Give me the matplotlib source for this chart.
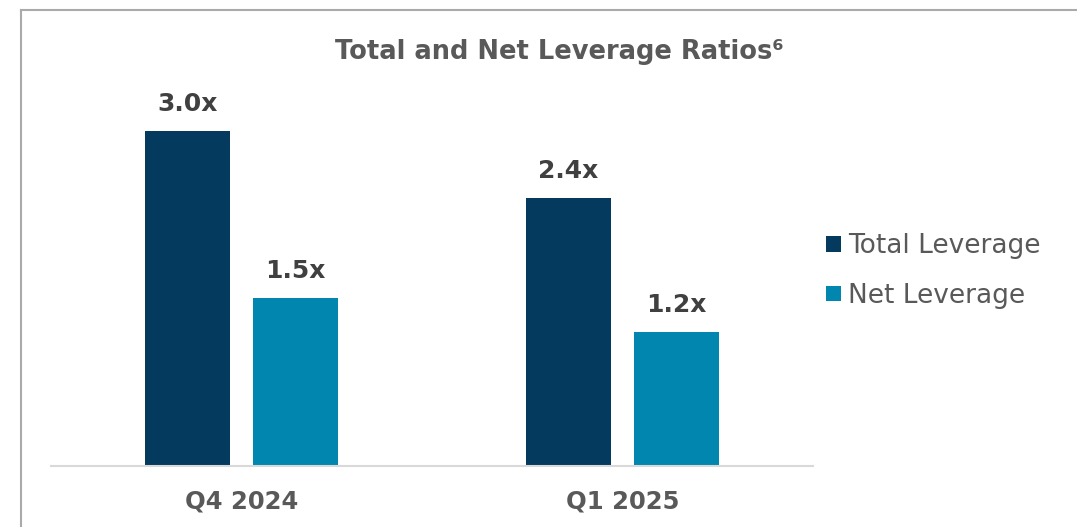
import matplotlib
matplotlib.use("Agg")
import matplotlib.pyplot as plt
from matplotlib.lines import Line2D
from matplotlib.patches import Patch
import numpy as np

categories = ["Q4 2024", "Q1 2025"]
series_names = ["Total Leverage", "Net Leverage"]
total_leverage = [3.0, 2.4]
net_leverage = [1.5, 1.2]
value_labels_total = ["3.0x", "2.4x"]
value_labels_net = ["1.5x", "1.2x"]
title = "Total and Net Leverage Ratios\u2076"

colors = ["#033A5D", "#0086AF"]
text_dark = "#404040"
text_grey = "#595959"

W, H = 1077, 527
fig = plt.figure(figsize=(W / 100, H / 100), dpi=100)
plt.rcParams['font.family'] = ['DejaVu Sans']

# axes placed in pixel coordinates
ax_l, ax_r, ax_b = 51, 813, 466
ymax = 3.5
ppu = 111.7
ax_top = ax_b - ymax * ppu
ax = fig.add_axes([ax_l / W, (H - ax_b) / H, (ax_r - ax_l) / W, (ax_b - ax_top) / H])

x = np.arange(len(categories))
bw = 0.225
off = 0.142
b1 = ax.bar(x - off, total_leverage, bw, color=colors[0], label=series_names[0])
b2 = ax.bar(x + off, net_leverage, bw, color=colors[1], label=series_names[1])

for rects, labs in ((b1, value_labels_total), (b2, value_labels_net)):
    for r, lab in zip(rects, labs):
        ax.annotate(lab, (r.get_x() + r.get_width() / 2, r.get_height()),
                    xytext=(0, 11), textcoords="offset points", ha="center", va="bottom",
                    fontsize=18, fontweight="bold", color=text_dark)

ax.set_xlim(-0.5, 1.5)
ax.set_ylim(0, ymax)
ax.set_xticks(x)
ax.set_xticklabels(categories, fontsize=17.5, fontweight="bold", color=text_grey)
ax.tick_params(axis="x", length=0, pad=17)
ax.set_yticks([])
for s in ["top", "right", "left"]:
    ax.spines[s].set_visible(False)
ax.spines["bottom"].set_color("#D9D9D9")
ax.spines["bottom"].set_linewidth(1.5)

fig.text(559 / W, 1 - 52 / H, title, ha="center", va="center", fontsize=18.5,
         fontweight="bold", color=text_grey)

handles = [Patch(facecolor=c, edgecolor="none") for c in colors]
fig.legend(handles, series_names, loc="center left", bbox_to_anchor=(826 / W, 1 - 271 / H),
           frameon=False, fontsize=19, labelcolor=text_grey, handlelength=0.55,
           handleheight=0.55, handletextpad=0.3, labelspacing=0.9, borderaxespad=0,
           borderpad=0)

# outer border (left and top)
fig.add_artist(Line2D([21 / W, 21 / W], [0, 1 - 10 / H], color="#AAAAAA", lw=1.5))
fig.add_artist(Line2D([21 / W, 1], [1 - 10 / H, 1 - 10 / H], color="#AAAAAA", lw=1.5))

fig.savefig("out.png", dpi=100)
